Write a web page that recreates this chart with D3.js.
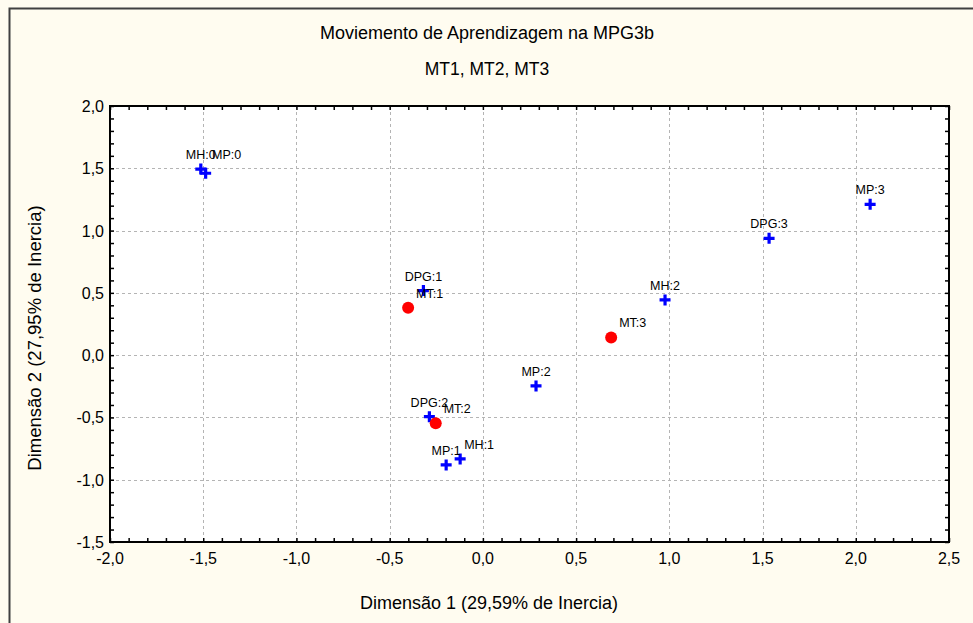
<!DOCTYPE html>
<html>
<head>
<meta charset="utf-8">
<script src="https://cdn.jsdelivr.net/npm/d3@7"></script>
<style>
  html, body { margin: 0; padding: 0; background: #fffcf0; }
  svg { display: block; font-family: Arial, "Liberation Sans", sans-serif; }
</style>
</head>
<body>
<svg id="chart" width="973" height="623"></svg>
<script>
// Correspondence analysis coordinates (Dimension 1, Dimension 2)
const columnLabels = ["MH:0", "MP:0", "DPG:1", "MH:1", "MP:1", "DPG:2", "MP:2", "MH:2", "DPG:3", "MP:3"];
const columnDim1 = [-1.513, -1.487, -0.319, -0.122, -0.197, -0.287, 0.285, 0.977, 1.535, 2.077];
const columnDim2 = [1.494, 1.460, 0.518, -0.833, -0.881, -0.494, -0.247, 0.443, 0.938, 1.211];

const rowLabels = ["MT:1", "MT:2", "MT:3"];
const rowDim1 = [-0.401, -0.253, 0.688];
const rowDim2 = [0.381, -0.547, 0.142];

const xTicks = [-2.0, -1.5, -1.0, -0.5, 0.0, 0.5, 1.0, 1.5, 2.0, 2.5];
const yTicks = [-1.5, -1.0, -0.5, 0.0, 0.5, 1.0, 1.5, 2.0];

const titleText = "Moviemento de Aprendizagem na MPG3b";
const subtitleText = "MT1, MT2, MT3";
const xTitle = "Dimensão 1 (29,59% de Inercia)";
const yTitle = "Dimensão 2 (27,95% de Inercia)";

const svg = d3.select("#chart");
const W = 973, H = 623;
const plot = { left: 110, right: 949, top: 106, bottom: 542 };

const fmt = v => d3.format(".1f")(v).replace(".", ",").replace("−", "-");

const x = d3.scaleLinear().domain([-2.0, 2.5]).range([plot.left, plot.right]);
const y = d3.scaleLinear().domain([-1.5, 2.0]).range([plot.bottom, plot.top]);

// page background and outer frame
svg.append("rect").attr("x", 0).attr("y", 0).attr("width", W).attr("height", H).attr("fill", "#fffcf0");
svg.append("rect").attr("x", 9.5).attr("y", 8.5).attr("width", W + 20).attr("height", H + 20)
  .attr("fill", "none").attr("stroke", "#404040").attr("stroke-width", 2);

// titles
svg.append("text").attr("x", 487).attr("y", 39).attr("text-anchor", "middle")
  .attr("font-size", 18).attr("fill", "#000").text(titleText);
svg.append("text").attr("x", 487).attr("y", 75).attr("text-anchor", "middle")
  .attr("font-size", 17.5).attr("fill", "#000").text(subtitleText);

// plot area
svg.append("rect").attr("x", plot.left).attr("y", plot.top)
  .attr("width", plot.right - plot.left).attr("height", plot.bottom - plot.top)
  .attr("fill", "#fff");

// dashed grid at major ticks
const grid = svg.append("g").attr("stroke", "#b4b4b4").attr("stroke-width", 1).attr("stroke-dasharray", "3,3");
grid.selectAll("line.gx").data(xTicks.slice(1, -1)).join("line")
  .attr("x1", d => Math.round(x(d)) + 0.5).attr("x2", d => Math.round(x(d)) + 0.5)
  .attr("y1", plot.top).attr("y2", plot.bottom);
grid.selectAll("line.gy").data(yTicks.slice(1, -1)).join("line")
  .attr("y1", d => Math.round(y(d)) + 0.5).attr("y2", d => Math.round(y(d)) + 0.5)
  .attr("x1", plot.left).attr("x2", plot.right);

// minor tick marks (every 0.1) on all four sides, pointing inward
const minorX = d3.range(-20, 26).map(i => i / 10);
const minorY = d3.range(-15, 21).map(i => i / 10);
const tickLen = 4;
const axisBottom = d3.axisBottom(x).tickValues(minorX).tickSize(-tickLen).tickFormat("");
const axisTop = d3.axisTop(x).tickValues(minorX).tickSize(-tickLen).tickFormat("");
const axisLeft = d3.axisLeft(y).tickValues(minorY).tickSize(-tickLen).tickFormat("");
const axisRight = d3.axisRight(y).tickValues(minorY).tickSize(-tickLen).tickFormat("");
svg.append("g").attr("transform", `translate(0,${plot.bottom})`).call(axisBottom);
svg.append("g").attr("transform", `translate(0,${plot.top})`).call(axisTop);
svg.append("g").attr("transform", `translate(${plot.left},0)`).call(axisLeft);
svg.append("g").attr("transform", `translate(${plot.right},0)`).call(axisRight);
svg.selectAll(".domain").remove();
svg.selectAll(".tick line").attr("stroke", "#000").attr("stroke-width", 1.5);

// frame
svg.append("rect").attr("x", plot.left).attr("y", plot.top)
  .attr("width", plot.right - plot.left).attr("height", plot.bottom - plot.top)
  .attr("fill", "none").attr("stroke", "#000").attr("stroke-width", 2);

// tick labels
svg.append("g").selectAll("text").data(xTicks).join("text")
  .attr("x", d => x(d)).attr("y", 564).attr("text-anchor", "middle")
  .attr("font-size", 16).text(fmt);
svg.append("g").selectAll("text").data(yTicks).join("text")
  .attr("x", plot.left - 6).attr("y", d => y(d) + 6).attr("text-anchor", "end")
  .attr("font-size", 16).text(fmt);

// axis titles
svg.append("text").attr("x", 489).attr("y", 609)
  .attr("text-anchor", "middle").attr("font-size", 18).text(xTitle);
svg.append("text").attr("transform", "translate(41,338) rotate(-90)")
  .attr("text-anchor", "middle").attr("font-size", 18.5).text(yTitle);

// label nudges where neighbouring labels would sit on top of each other
const labelNudge = { "MP:0": [21, -4], "MH:1": [19, 0] };

// column points: blue crosses
const cols = columnLabels.map((l, i) => ({ label: l, d1: columnDim1[i], d2: columnDim2[i] }));
const rows = rowLabels.map((l, i) => ({ label: l, d1: rowDim1[i], d2: rowDim2[i] }));

const crossPath = "M-5.5,0H5.5M0,-5.5V5.5";
svg.append("g").selectAll("path").data(cols).join("path")
  .attr("transform", d => `translate(${x(d.d1)},${y(d.d2)})`)
  .attr("d", crossPath).attr("stroke", "#0000ff").attr("stroke-width", 3.2).attr("fill", "none");

// row points: red dots
svg.append("g").selectAll("circle").data(rows).join("circle")
  .attr("cx", d => x(d.d1)).attr("cy", d => y(d.d2)).attr("r", 6)
  .attr("fill", "#ff0000");

svg.append("g").selectAll("text").data(cols).join("text")
  .attr("x", d => x(d.d1) + (labelNudge[d.label] ? labelNudge[d.label][0] : 0))
  .attr("y", d => y(d.d2) - 10 + (labelNudge[d.label] ? labelNudge[d.label][1] : 0))
  .attr("text-anchor", "middle").attr("font-size", 12.5).attr("fill", "#000").text(d => d.label);

svg.append("g").selectAll("text").data(rows).join("text")
  .attr("x", d => x(d.d1) + 8).attr("y", d => y(d.d2) - 10)
  .attr("text-anchor", "start").attr("font-size", 12.5).attr("fill", "#000").text(d => d.label);
</script>
</body>
</html>
